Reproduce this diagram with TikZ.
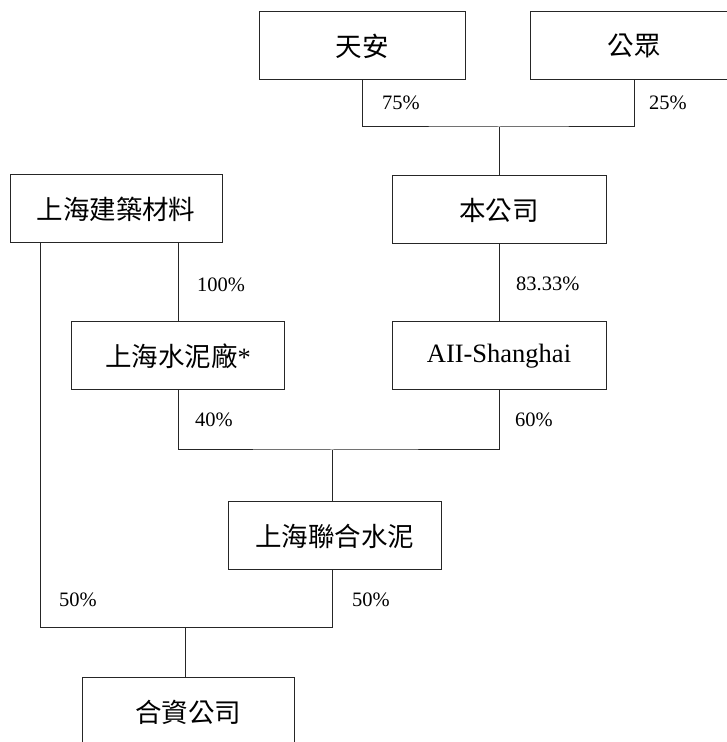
\documentclass[tikz,border=0pt]{standalone}
\usepackage{fontspec}
\setmainfont{Liberation Serif}
\newfontfamily\cjk{Noto Sans CJK TC}
\begin{document}
\begin{tikzpicture}[x=1pt,y=1pt,
  box/.style={draw=black!85,line width=1pt,minimum height=68pt,inner sep=0pt,font=\fontsize{26.5}{30}\selectfont},
  pct/.style={anchor=west,inner sep=0pt,font=\fontsize{20.5}{24}\selectfont},
  conn/.style={draw=black!85,line width=1pt}]
\useasboundingbox (0,0) rectangle (726,742);
\node[box,minimum width=206pt] (tianan) at (362,696) {\cjk 天安};
\node[box,minimum width=208pt] (gongzhong) at (634,696) {\cjk 公眾};
\node[box,minimum width=212pt] (jianzhu) at (116,533) {\cjk 上海建築材料};
\node[box,minimum width=214pt] (bengongsi) at (499,532) {\cjk 本公司};
\node[box,minimum width=213pt] (shuinichang) at (178,386) {{\cjk 上海水泥廠}*};
\node[box,minimum width=214pt] (aii) at (499,386) {AII-Shanghai};
\node[box,minimum width=213pt] (lianhe) at (334.5,206) {\cjk 上海聯合水泥};
\node[box,minimum width=212pt] (hezi) at (188,30) {\cjk 合資公司};
\coordinate (j1) at (499,615);
\coordinate (j2) at (332,292);
\coordinate (j3) at (185,114);
\coordinate (j4) at (332,114);
\coordinate (l0) at (40,499);
\draw[conn] (tianan.south) |- (j1) -| (gongzhong.south);
\draw[conn] (j1) -- (bengongsi.north);
\draw[conn] (bengongsi.south) -- (aii.north);
\draw[conn] (shuinichang.north) -- (shuinichang.north |- jianzhu.south);
\draw[conn] (shuinichang.south) |- (j2) -| (aii.south);
\draw[conn] (j2) -- (j2 |- lianhe.north);
\draw[conn] (l0) |- (j4) -- (j4 |- lianhe.south);
\draw[conn] (j3) -- (j3 |- hezi.north);
\node[pct] (p75) at (382,639) {75\%};
\node[pct] (p25) at (649,639) {25\%};
\node[pct] (p100) at (197,457) {100\%};
\node[pct] (p8333) at (516,458) {83.33\%};
\node[pct] (p40) at (195,322) {40\%};
\node[pct] (p60) at (515,322) {60\%};
\node[pct] (p50a) at (59,142) {50\%};
\node[pct] (p50b) at (352,142) {50\%};
\end{tikzpicture}
\end{document}
